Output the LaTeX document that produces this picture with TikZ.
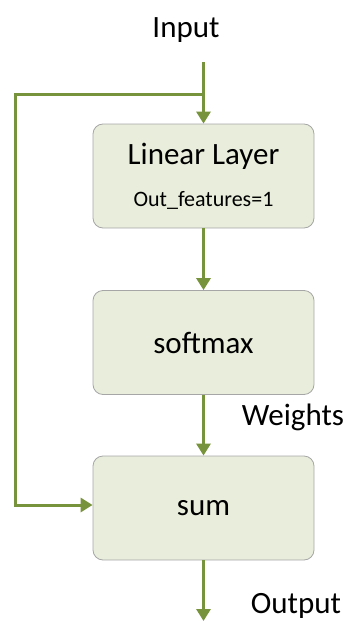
\documentclass[tikz,border=0pt]{standalone}
\usepackage{fontspec}
\setmainfont{Carlito}
\usetikzlibrary{positioning,arrows.meta}

\definecolor{lnGreen}{HTML}{77933C}
\definecolor{blkFill}{HTML}{E8EEDB}
\definecolor{blkBorder}{HTML}{A6A6A6}

\begin{document}
\begin{tikzpicture}[
            x=1pt, y=-1pt,
            blk/.style={rectangle, rounded corners=10pt, draw=blkBorder, fill=blkFill, line width=0.8pt,
                        minimum width=221pt, minimum height=104pt, inner sep=0pt, align=center,
                        font=\fontsize{31}{36}\selectfont},
            txt/.style={anchor=base, inner sep=0pt, font=\fontsize{31}{36}\selectfont},
            ln/.style={draw=lnGreen, line width=3pt},
            arr/.style={ln, -{Triangle[width=14pt, length=12pt]}}
        ]
        \useasboundingbox (0,0) rectangle (351,621);
        \node[txt] (inp) at (186,37) {Input};
        \node[blk] (lin) at (203.5,176) {Linear Layer\\[6pt]{\fontsize{22}{26}\selectfont Out\_features=1}};
        \node[blk] (soft) at (203.5,342.5) {softmax};
        \node[blk] (sum) at (203.5,508) {sum};
        \node[txt] (wts) at (293,425) {Weights};
        \node[txt] (outp) at (296,613) {Output};
        \coordinate (top) at (203.5,62);
        \coordinate (br) at (203.5,94);
        \coordinate (lt) at (15,94);
        \coordinate (lb) at (15,505);
        \coordinate (out) at (203.5,621);
        \draw[arr] (top) -- (lin.north);
        \draw[arr] (lin) -- (soft);
        \draw[arr] (soft) -- (sum);
        \draw[arr] (sum) -- (out);
        % skip connection round the left
        \draw[arr] (br) -- (lt) -- (lb) -- (lb -| sum.west);
    \end{tikzpicture}
\end{document}
